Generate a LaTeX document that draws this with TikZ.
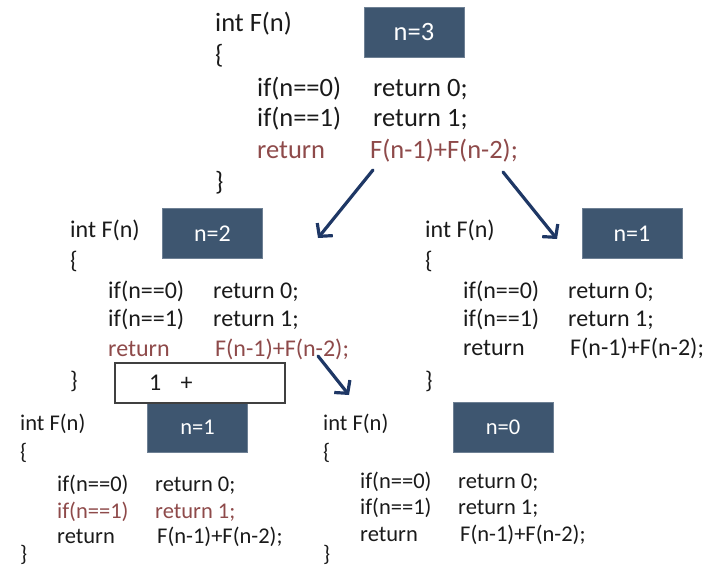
\documentclass[tikz,border=0pt]{standalone}
\usepackage{fontspec}
\setmainfont{Carlito}
\usetikzlibrary{arrows.meta, positioning}
\definecolor{boxblue}{HTML}{3E5670}
\definecolor{codered}{HTML}{8E4A4A}
\definecolor{arrblue}{HTML}{1E3765}
\definecolor{ink}{HTML}{1A1A1A}

\begin{document}
\begin{tikzpicture}[
  x=1pt, y=-1pt,
  big/.style={font=\fontsize{26.5}{30}\selectfont},
  mid/.style={font=\fontsize{24}{28}\selectfont},
  small/.style={font=\fontsize{22.5}{26}\selectfont},
  code/.style={anchor=base west, inner sep=0pt, text=ink},
  hot/.style={code, text=codered},
  nbox/.style={draw=boxblue!75!white, line width=0.8pt, fill=boxblue, text=white, minimum width=100pt, minimum height=50pt, inner sep=0pt},
  sumbox/.style={draw=black!75, line width=2.2pt, fill=white, minimum width=170pt, minimum height=40pt, inner sep=0pt},
  arr/.style={-{Straight Barb[length=9pt, width=20pt]}, line width=3.2pt, draw=arrblue, line cap=round}
]
\useasboundingbox (0,0) rectangle (708,569);

% call with n=3
\node[nbox, big] (box3) at (414,32) {n=3};
\node[code, big] (t-int) at (215,32) {int F(n)};
\node[code, big] (t-open) at (215,64) {\{};
\node[code, big] (t-if0) at (257,97) {if(n==0)};
\node[code, big] (t-r0) at (373,97) {return 0;};
\node[code, big] (t-if1) at (257,127) {if(n==1)};
\node[code, big] (t-r1) at (373,127) {return 1;};
\node[hot, big] (t-ret) at (257,159) {return};
\node[hot, big] (t-sum) at (370,159) {F(n-1)+F(n-2);};
\node[code, big] (t-close) at (215,191) {\}};

% call with n=2
\node[nbox, mid] (box2) at (212.5,233.5) {n=2};
\node[code, mid] (l-int) at (70,237) {int F(n)};
\node[code, mid] (l-open) at (70,268) {\{};
\node[code, mid] (l-if0) at (108,298) {if(n==0)};
\node[code, mid] (l-r0) at (213,298) {return 0;};
\node[code, mid] (l-if1) at (108,326) {if(n==1)};
\node[code, mid] (l-r1) at (213,326) {return 1;};
\node[hot, mid] (l-ret) at (108,356) {return};
\node[hot, mid] (l-sum) at (215,356) {F(n-1)+F(n-2);};
\node[code, mid] (l-close) at (70,388) {\}};

% call with n=1 (right)
\node[nbox, mid] (box1r) at (632,233.5) {n=1};
\node[code, mid] (r-int) at (425,237) {int F(n)};
\node[code, mid] (r-open) at (425,268) {\{};
\node[code, mid] (r-if0) at (463,298) {if(n==0)};
\node[code, mid] (r-r0) at (568,298) {return 0;};
\node[code, mid] (r-if1) at (463,326) {if(n==1)};
\node[code, mid] (r-r1) at (568,326) {return 1;};
\node[code, mid] (r-ret) at (463,355) {return};
\node[code, mid] (r-sum) at (570,355) {F(n-1)+F(n-2);};
\node[code, mid] (r-close) at (425,388) {\}};

% call with n=1 (bottom left)
\node[nbox, small] (box1b) at (197.5,427.5) {n=1};
\node[code, small] (b-int) at (20,430) {int F(n)};
\node[code, small] (b-open) at (20,459) {\{};
\node[code, small] (b-if0) at (57,491) {if(n==0)};
\node[code, small] (b-r0) at (155,491) {return 0;};
\node[hot, small] (b-if1) at (57,518) {if(n==1)};
\node[hot, small] (b-r1) at (155,518) {return 1;};
\node[code, small] (b-ret) at (57,543) {return};
\node[code, small] (b-sum) at (157,543) {F(n-1)+F(n-2);};
\node[code, small] (b-close) at (20,561) {\}};

% call with n=0
\node[nbox, small] (box0) at (503,427.5) {n=0};
\node[code, small] (z-int) at (323,430) {int F(n)};
\node[code, small] (z-open) at (323,459) {\{};
\node[code, small] (z-if0) at (360,488) {if(n==0)};
\node[code, small] (z-r0) at (458,488) {return 0;};
\node[code, small] (z-if1) at (360,514) {if(n==1)};
\node[code, small] (z-r1) at (458,514) {return 1;};
\node[code, small] (z-ret) at (360,541) {return};
\node[code, small] (z-sum) at (460,541) {F(n-1)+F(n-2);};
\node[code, small] (z-close) at (323,561) {\}};

% partial result
\node[sumbox, mid] (acc) at (200,383) {};
\node[code, mid, anchor=west] (acc-txt) at (149,383) {1\hspace{0.8em}+};

% recursion arrows
\coordinate (a1s) at (373,170);
\coordinate (a1e) at (318,238);
\coordinate (a2s) at (503,172);
\coordinate (a2e) at (557,239);
\coordinate (a3s) at (318,356);
\coordinate (a3e) at (349,395);
\draw[arr] (a1s) -- (a1e);
\draw[arr] (a2s) -- (a2e);
\draw[arr] (a3s) -- (a3e);
\end{tikzpicture}
\end{document}
